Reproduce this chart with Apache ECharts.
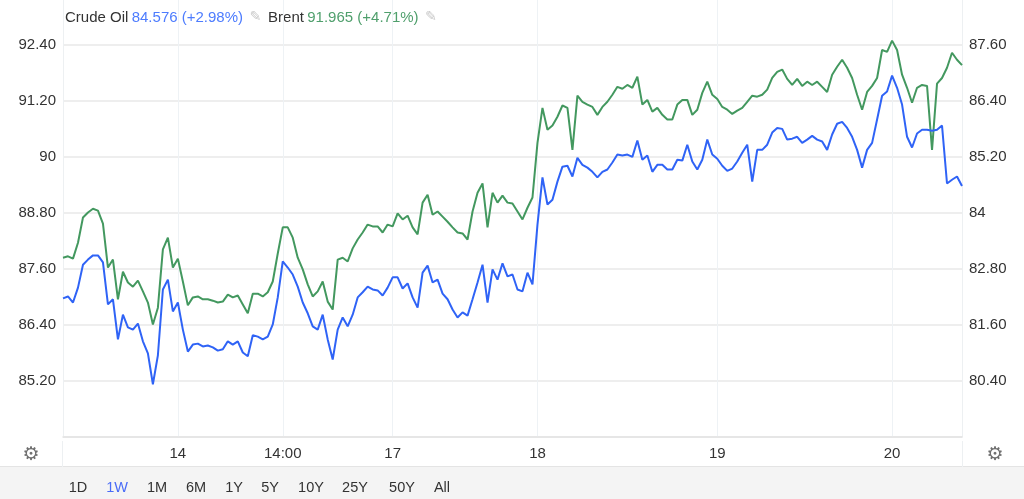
<!DOCTYPE html>
<html>
<head>
<meta charset="utf-8">
<style>html,body{margin:0;padding:0;background:#fff;}#c{width:1024px;height:499px;}</style>
<script src="https://cdn.jsdelivr.net/npm/echarts@6/dist/echarts.min.js"></script>
</head>
<body>
<div id="c"></div>
<script>
// Brent (left axis)
const brent = [87.84,87.87,87.82,88.16,88.70,88.81,88.89,88.85,88.57,87.63,
87.80,86.95,87.54,87.31,87.22,87.35,87.12,86.88,86.41,86.77,
88.02,88.27,87.63,87.82,87.33,86.82,86.99,87.01,86.95,86.95,
86.92,86.88,86.90,87.05,86.99,87.03,86.84,86.65,87.07,87.07,
87.01,87.10,87.33,87.93,88.49,88.49,88.27,87.84,87.59,87.27,
87.01,87.12,87.33,86.90,86.73,87.80,87.84,87.76,88.04,88.23,
88.38,88.55,88.51,88.51,88.38,88.55,88.51,88.79,88.66,88.74,
88.49,88.34,89.02,89.19,88.76,88.83,88.72,88.61,88.49,88.38,
88.36,88.23,88.83,89.23,89.43,88.49,89.23,89.02,89.17,89.02,
89.00,88.83,88.66,88.91,89.13,90.30,91.05,90.58,90.67,90.86,
91.10,91.05,90.15,91.31,91.18,91.12,91.07,90.90,91.07,91.18,
91.33,91.50,91.46,91.54,91.48,91.72,91.12,91.22,90.97,91.05,
90.90,90.80,90.80,91.12,91.22,91.22,90.90,91.01,91.37,91.61,
91.33,91.24,91.07,91.01,90.92,90.99,91.05,91.18,91.31,91.29,
91.33,91.44,91.69,91.82,91.87,91.67,91.54,91.67,91.52,91.61,
91.54,91.61,91.50,91.39,91.76,91.93,92.08,91.91,91.69,91.33,
91.01,91.39,91.52,91.69,92.29,92.25,92.49,92.29,91.76,91.48,
91.16,91.48,91.54,91.52,90.15,91.57,91.69,91.91,92.23,92.08,
91.965];
// Crude Oil (right axis)
const crude = [82.17,82.21,82.08,82.40,82.89,83.00,83.09,83.09,82.94,82.04,
82.15,81.29,81.82,81.55,81.50,81.63,81.25,80.99,80.33,80.95,
82.36,82.57,81.89,82.08,81.50,81.03,81.18,81.20,81.14,81.16,
81.12,81.05,81.08,81.25,81.18,81.25,81.01,80.93,81.38,81.35,
81.29,81.35,81.61,82.19,82.96,82.83,82.68,82.42,82.08,81.85,
81.57,81.50,81.82,81.29,80.86,81.50,81.76,81.57,81.82,82.19,
82.30,82.42,82.36,82.34,82.23,82.40,82.62,82.62,82.38,82.49,
82.19,81.97,82.72,82.87,82.51,82.57,82.27,82.15,81.93,81.76,
81.87,81.80,82.15,82.51,82.89,82.08,82.79,82.57,82.92,82.64,
82.68,82.36,82.32,82.72,82.47,83.75,84.76,84.18,84.28,84.67,
84.99,85.01,84.78,85.18,85.03,84.97,84.88,84.76,84.88,84.93,
85.08,85.25,85.23,85.25,85.20,85.55,85.14,85.23,84.88,85.03,
85.03,84.93,84.93,85.14,85.12,85.46,85.10,84.93,85.14,85.57,
85.25,85.16,85.01,84.90,84.95,85.10,85.29,85.46,84.67,85.35,
85.35,85.46,85.72,85.82,85.80,85.57,85.59,85.63,85.50,85.57,
85.65,85.57,85.53,85.35,85.68,85.91,85.95,85.82,85.63,85.35,
84.97,85.35,85.50,86.00,86.51,86.60,86.94,86.68,86.32,85.63,
85.40,85.70,85.78,85.78,85.76,85.78,85.87,84.63,84.71,84.78,
84.576];
const categories = brent.map((_, i) => 'p' + i);
const tickIndex = [23, 44, 66, 95, 131, 166];
const tickLabels = ['14', '14:00', '17', '18', '19', '20'];
const rangeButtons = ['1D','1W','1M','6M','1Y','5Y','10Y','25Y','50Y','All'];

const FONT = 'Liberation Sans, Arial, sans-serif';
const fmt = v => {
  const r = Math.round(v * 100) / 100;
  return Number.isInteger(r) ? String(r) : r.toFixed(2);
};
const showTick = (idx) => tickIndex.indexOf(idx) >= 0;

const btnX = [78,117,157,196,234,270,311,355,402,442];
const graphics = [
  {type:'rect', left:0, top:467, shape:{width:1024, height:32}, style:{fill:'#f4f4f4'}, silent:true},
  {type:'rect', left:0, top:466, shape:{width:1024, height:1}, style:{fill:'#e4e4e4'}, silent:true},
  {type:'rect', left:62, top:441, shape:{width:1, height:26}, style:{fill:'#edf0f2'}, silent:true},
  {type:'rect', left:962, top:441, shape:{width:1, height:26}, style:{fill:'#edf0f2'}, silent:true},
  {type:'text', left:65, top:10, style:{
    text:'{a|Crude Oil} {b|' + crude[crude.length-1].toFixed(3) + ' (+2.98%)}  {p|✎}  {a|Brent} {c|' + brent[brent.length-1].toFixed(3) + ' (+4.71%)}  {p|✎}',
    rich:{
      a:{fontFamily:FONT, fontSize:15, fill:'#333'},
      b:{fontFamily:FONT, fontSize:15, fill:'#4d7cfe'},
      c:{fontFamily:FONT, fontSize:15, fill:'#4f9f6c'},
      p:{fontFamily:'DejaVu Sans', fontSize:14, fill:'#c8c8c8'}
    }}},
  {type:'text', x:31, y:455, style:{text:'⚙', fontFamily:'DejaVu Sans', fontSize:19, fill:'#707070', align:'center', verticalAlign:'middle'}},
  {type:'text', x:995, y:455, style:{text:'⚙', fontFamily:'DejaVu Sans', fontSize:19, fill:'#707070', align:'center', verticalAlign:'middle'}}
];
rangeButtons.forEach((t, i) => {
  graphics.push({type:'text', x:btnX[i], y:488, style:{text:t, fontFamily:FONT, fontSize:14.5,
    fill: t === '1W' ? '#4a6cf7' : '#333', align:'center', verticalAlign:'middle'}});
});

const chart = echarts.init(document.getElementById('c'), null, {renderer:'canvas'});
chart.setOption({
  animation:false,
  backgroundColor:'#fff',
  grid:{left:63, right:62, top:0, bottom:62, containLabel:false},
  xAxis:{
    type:'category', data:categories, boundaryGap:false,
    axisLine:{show:true, lineStyle:{color:'#e3e3e3', width:1.5}},
    axisTick:{show:false},
    axisLabel:{interval:(idx)=>showTick(idx), formatter:(v, idx)=>{const k = tickIndex.indexOf(idx); return k>=0 ? tickLabels[k] : '';},
      color:'#333', fontFamily:FONT, fontSize:15, margin:9},
    splitLine:{show:true, interval:(idx)=>showTick(idx), lineStyle:{color:'#eef2f5', width:1}}
  },
  yAxis:[
    {type:'value', position:'left', min:84, max:93.36, interval:1.2,
      axisLine:{show:true, lineStyle:{color:'#edf0f2'}}, axisTick:{show:false},
      axisLabel:{formatter:fmt, showMinLabel:false, showMaxLabel:false, color:'#333', fontFamily:FONT, fontSize:15, margin:7},
      splitLine:{show:true, showMaxLine:false, lineStyle:{color:'#e8e8e8', width:1.5}}},
    {type:'value', position:'right', min:79.2, max:88.56, interval:1.2,
      axisLine:{show:true, lineStyle:{color:'#edf0f2'}}, axisTick:{show:false},
      axisLabel:{formatter:fmt, showMinLabel:false, showMaxLabel:false, color:'#333', fontFamily:FONT, fontSize:15, margin:7},
      splitLine:{show:false}}
  ],
  series:[
    {name:'Brent', type:'line', yAxisIndex:0, data:brent, showSymbol:false, symbol:'none',
      lineStyle:{color:'#43985f', width:2}, z:3},
    {name:'Crude Oil', type:'line', yAxisIndex:1, data:crude, showSymbol:false, symbol:'none',
      lineStyle:{color:'#2f63f6', width:2}, z:4}
  ],
  graphic:graphics
});
</script>
</body>
</html>
